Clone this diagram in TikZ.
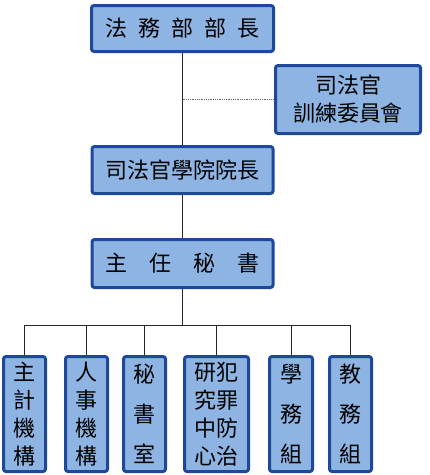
\documentclass[tikz,border=0pt]{standalone}
\usepackage{fontspec}
\newfontfamily\cjk{Noto Sans CJK TC}
\definecolor{boxblue}{RGB}{30,72,152}
\definecolor{boxfill}{RGB}{141,180,226}
\begin{document}
\begin{tikzpicture}[x=1pt,y=-1pt,
  box/.style={draw=boxblue, fill=boxfill, line width=3pt, rounded corners=2.5pt,
    inner sep=0pt, align=center, font=\cjk\fontsize{22}{28}\selectfont},
  wide/.style={font=\cjk\fontsize{22}{40}\selectfont},
  link/.style={draw=black!85, line width=0.8pt},
  dotlink/.style={draw=black!60, line width=0.8pt, densely dotted}]
\useasboundingbox (0,0) rectangle (430,475);
\node[box, minimum width=182, minimum height=46] (minister) at (182.5,28.5)
  {法\hspace{0.5em}務\hspace{0.5em}部\hspace{0.5em}部\hspace{0.5em}長};
\node[box, minimum width=145, minimum height=68] (committee) at (348,99.5)
  {司法官\\訓練委員會};
\node[box, minimum width=181, minimum height=47] (academy) at (182.5,170)
  {司法官學院院長};
\node[box, minimum width=181, minimum height=48] (secretary) at (182.5,263.5)
  {主\hspace{1em}任\hspace{1em}秘\hspace{1em}書};
\node[box, minimum width=42, minimum height=115] (b1) at (24.5,414) {主\\計\\機\\構};
\node[box, minimum width=42, minimum height=115] (b2) at (86.5,414) {人\\事\\機\\構};
\node[box, wide, minimum width=42, minimum height=115] (b3) at (144.5,414) {秘\\書\\室};
\node[box, minimum width=64, minimum height=115] (b4) at (216.5,414) {研犯\\究罪\\中防\\心治};
\node[box, wide, minimum width=43, minimum height=115] (b5) at (291,414) {學\\務\\組};
\node[box, wide, minimum width=42, minimum height=115] (b6) at (350.5,414) {教\\務\\組};
\coordinate (j) at (minister.south |- committee.west);
\coordinate (bus) at (182.5,325);
\begin{scope}[on background layer/.try]
\end{scope}
\draw[link] (minister.south) -- (academy.north);
\draw[dotlink] (j) -- (committee.west);
\draw[link] (academy.south) -- (secretary.north);
\draw[link] (secretary.south) -- (bus);
\draw[link] (b1.north) -- (b1.north |- bus) -- (b6.north |- bus) -- (b6.north);
\foreach \b in {b2,b3,b4,b5} \draw[link] (\b.north) -- (\b.north |- bus);
\end{tikzpicture}
\end{document}
